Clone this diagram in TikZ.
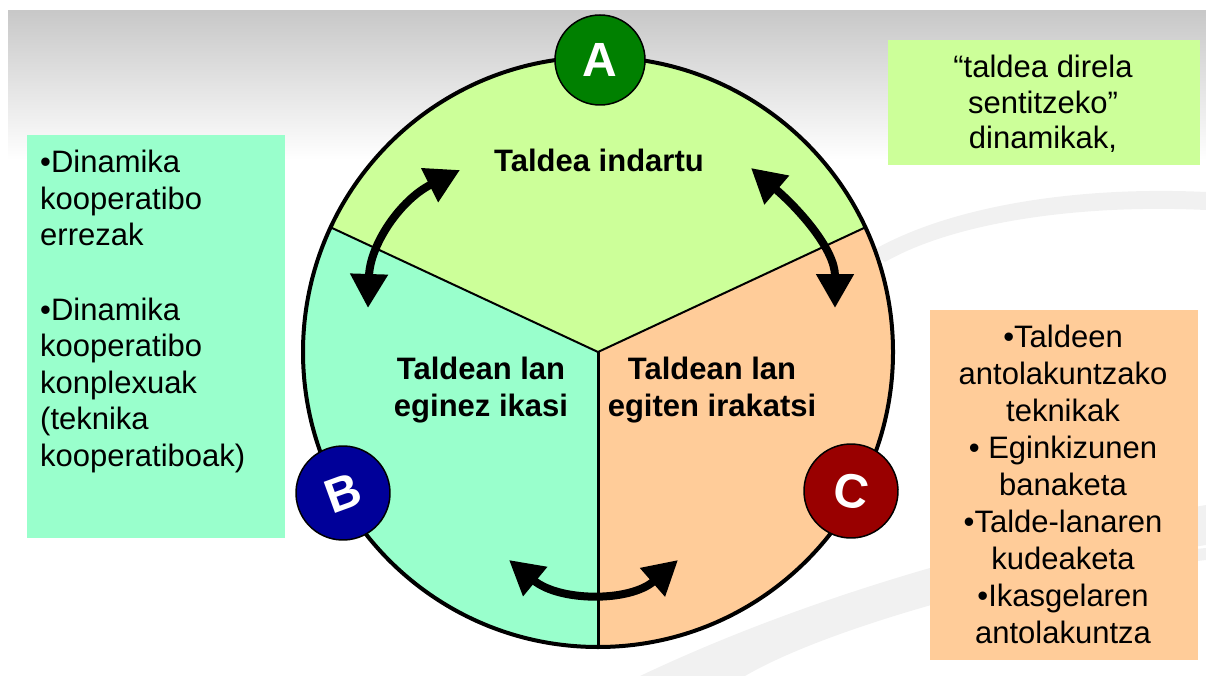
\documentclass[tikz,border=0pt]{standalone}
\usepackage{fontspec}
\setmainfont{Liberation Sans}
\usetikzlibrary{arrows.meta}

\definecolor{bgtop}{HTML}{C8C8C8}
\definecolor{swoosh}{HTML}{F1F1F1}
\definecolor{secA}{HTML}{CCFF99}
\definecolor{secB}{HTML}{99FFCC}
\definecolor{secC}{HTML}{FFCC99}
\definecolor{discA}{HTML}{008000}
\definecolor{discB}{HTML}{000099}
\definecolor{discC}{HTML}{990000}

\tikzset{
  letterdisc/.style={circle, draw=black, line width=1.5, minimum size=94, inner sep=0,
    text=white, font=\fontsize{48}{48}\selectfont\bfseries},
  sectortext/.style={align=center, inner sep=0, font=\fontsize{31}{37}\selectfont\bfseries},
  sidetext/.style={inner sep=0, font=\fontsize{31}{37}\selectfont},
  cyclearrow/.style={<->, >={Triangle[length=34pt,width=36pt]}, line width=8},
}

\begin{document}
\begin{tikzpicture}[x=1pt,y=-1pt]
	\useasboundingbox (0,0) rectangle (1206,676);
	
	%background
	\shade[top color=bgtop, bottom color=white] (8,11) rectangle (1206,160);
	\fill[swoosh] (870,252) .. controls (950,205) and (1080,186) .. (1206,192)
		-- (1206,210) .. controls (1080,204) and (955,222) .. (885,262) -- cycle;
	\fill[swoosh] (640,676) .. controls (800,600) and (1000,540) .. (1206,505)
		-- (1206,545) .. controls (1000,578) and (820,632) .. (745,676) -- cycle;
	\fill[swoosh] (860,600) .. controls (960,570) and (1080,560) .. (1206,548)
		-- (1206,560) .. controls (1080,575) and (960,585) .. (860,612) -- cycle;
	
	%sectors
	\coordinate (O) at (598,352);
	\fill[secA] (O) -- ++(-25:295) arc[start angle=-25, end angle=-155, radius=295] -- cycle;
	\fill[secB] (O) -- ++(-155:295) arc[start angle=-155, end angle=-270, radius=295] -- cycle;
	\fill[secC] (O) -- ++(-270:295) arc[start angle=-270, end angle=-385, radius=295] -- cycle;
	\draw[line width=2] (O) -- ++(-25:295) (O) -- ++(-155:295);
	\draw[line width=3] (O) -- ++(-270:295);
	\draw[line width=4] (O) circle[radius=295];
	
	%sector labels
	\node[sectortext, anchor=base] (strong) at (599,172) {Taldea indartu};
	\node[sectortext, anchor=north] (learn) at (481,357) {Taldean lan\\eginez ikasi};
	\node[sectortext, anchor=north] (teach) at (712,357) {Taldean lan\\egiten irakatsi};
	
	%arrows
	\coordinate (l1) at (368,308); \coordinate (l2) at (460,170);
	\coordinate (r1) at (751,168); \coordinate (r2) at (835,308);
	\coordinate (b1) at (509,560); \coordinate (b2) at (678,560);
	\draw[cyclearrow] (l1) .. controls (370,245) and (400,200) .. (l2);
	\draw[cyclearrow] (r1) .. controls (800,210) and (835,250) .. (r2);
	\draw[cyclearrow] (b1) .. controls (560,602) and (630,602) .. (b2);
	
	%letter discs
	\node[letterdisc, fill=discA, minimum size=90] (A) at (600,60) {A};
	\node[letterdisc, fill=discB, rotate=20] (B) at (343,493) {B};
	\node[letterdisc, fill=discC, rotate=-10] (C) at (851,491) {C};
	
	%side boxes
	\fill[secB] (27,135) rectangle (285,538);
	\fill[secA] (888,40) rectangle (1200,165);
	\fill[secC] (930,310) rectangle (1198,660);
	%
	\node[sidetext, anchor=north west, align=left, font=\fontsize{31}{36.5}\selectfont] (simple) at (40,150)
		{•Dinamika\\kooperatibo\\errezak\\[38pt]•Dinamika\\kooperatibo\\konplexuak\\(teknika\\kooperatiboak)};
	\node[sidetext, anchor=north, align=center, font=\fontsize{31}{35.5}\selectfont] (feel) at (1043,55)
		{“taldea direla\\sentitzeko”\\dinamikak,};
	\node[sidetext, anchor=north, align=center] (tech) at (1063,325)
		{•Taldeen\\antolakuntzako\\teknikak\\• Eginkizunen\\banaketa\\•Talde-lanaren\\kudeaketa\\•Ikasgelaren\\antolakuntza};
\end{tikzpicture}
\end{document}
